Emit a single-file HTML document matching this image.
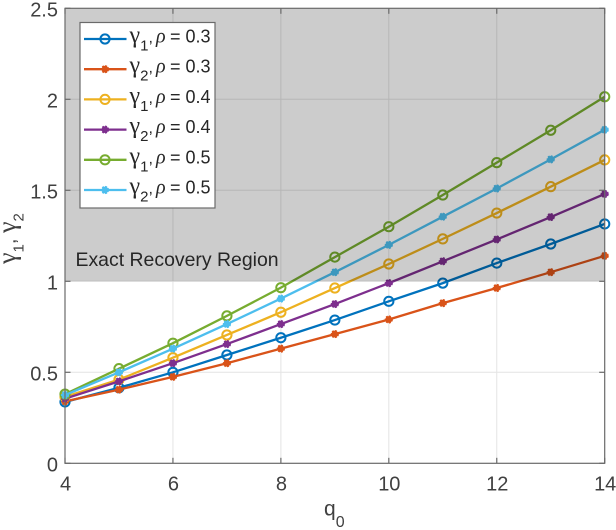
<!DOCTYPE html>
<html>
<head>
<meta charset="utf-8">
<style>
html,body{margin:0;padding:0;background:#fff;width:616px;height:530px;overflow:hidden}
svg{display:block;font-family:"Liberation Sans",sans-serif;filter:blur(0.35px)}
text{fill:#404040}
</style>
</head>
<body>
<svg id="chart" xmlns="http://www.w3.org/2000/svg" width="616" height="530" viewBox="0 0 616 530"></svg>
<script>
const qValues = [4,5,6,7,8,9,10,11,12,13,14];
const gamma1Rho03 = [0.337,0.415,0.50,0.595,0.69,0.787,0.89,0.99,1.10,1.205,1.315];
const gamma2Rho03 = [0.34,0.405,0.475,0.55,0.63,0.71,0.79,0.88,0.963,1.05,1.14];
const gamma1Rho04 = [0.365,0.46,0.58,0.705,0.83,0.963,1.095,1.233,1.375,1.52,1.667];
const gamma2Rho04 = [0.355,0.45,0.55,0.655,0.765,0.875,0.99,1.11,1.23,1.353,1.48];
const gamma1Rho05 = [0.38,0.52,0.66,0.81,0.965,1.133,1.30,1.474,1.652,1.83,2.014];
const gamma2Rho05 = [0.375,0.50,0.63,0.765,0.905,1.05,1.20,1.355,1.51,1.67,1.833];
const xTicks = [4,6,8,10,12,14];
const yTicks = [0,0.5,1,1.5,2,2.5];
const regionThreshold = 1;
const seriesNames = ['gamma1-rho-0-3','gamma2-rho-0-3','gamma1-rho-0-4','gamma2-rho-0-4','gamma1-rho-0-5','gamma2-rho-0-5'];
const seriesValues = [gamma1Rho03,gamma2Rho03,gamma1Rho04,gamma2Rho04,gamma1Rho05,gamma2Rho05];
const seriesColors = ['#0072BD','#D95319','#EDB120','#7E2F8E','#77AC30','#4DBEEE'];
const seriesSub = ['1','2','1','2','1','2'];
const seriesRho = ['0.3','0.3','0.4','0.4','0.5','0.5'];

const NS = 'http://www.w3.org/2000/svg';
const svg = document.getElementById('chart');
const L = 65, R = 604.7, T = 8.3, B = 463.3;
const xMin = 4, xMax = 14, yMin = 0, yMax = 2.5;
const GAMMA_FONT = 'Liberation Serif, serif';
function xs(v){ return L + (v - xMin) / (xMax - xMin) * (R - L); }
function ys(v){ return B - (v - yMin) / (yMax - yMin) * (B - T); }
function mk(tag, attrs, parent){
  const e = document.createElementNS(NS, tag);
  for (const k in attrs) e.setAttribute(k, attrs[k]);
  (parent || svg).appendChild(e);
  return e;
}

// grid
const grid = mk('g', {});


xTicks.slice(1, -1).forEach(function(t){
  const l = mk('line', {x1:xs(t), x2:xs(t), y1:T, y2:B, stroke:'#e4e4e4', 'stroke-width':1}, grid);
  
  
});
yTicks.slice(1, -1).forEach(function(t){
  const l = mk('line', {x1:L, x2:R, y1:ys(t), y2:ys(t), stroke:'#e4e4e4', 'stroke-width':1}, grid);
  
  
});

// series
function drawMarker(parent, x, y, color, sub){
  if (sub === '1') {
    return mk('circle', {cx:x, cy:y, r:4.6, fill:'none', stroke:color, 'stroke-width':2}, parent);
  }
  return mk('circle', {cx:x, cy:y, r:3.4, fill:color, stroke:color, 'stroke-width':1.4, 'stroke-dasharray':'2 1.2'}, parent);
}
seriesValues.forEach(function(vals, i){
  const g = mk('g', {}, svg);
  
  
  const pts = vals.map(function(v, j){ return xs(qValues[j]).toFixed(2) + ',' + ys(v).toFixed(2); }).join(' ');
  const pl = mk('polyline', {points:pts, fill:'none', stroke:seriesColors[i], 'stroke-width':2.3}, g);
  
  
  vals.forEach(function(v, j){
    const m = drawMarker(g, xs(qValues[j]), ys(v), seriesColors[i], seriesSub[i]);
    
    
  });
});

// shaded region
const region = mk('rect', {x:L, y:T, width:R-L, height:ys(regionThreshold)-T, fill:'#000', 'fill-opacity':0.2});



// axes
const axes = mk('g', {stroke:'#6a6a6a', 'stroke-width':1.2, fill:'none'});


mk('rect', {x:L, y:T, width:R-L, height:B-T}, axes);
xTicks.forEach(function(t){
  mk('line', {x1:xs(t), x2:xs(t), y1:B, y2:B-5.5}, axes);
  mk('line', {x1:xs(t), x2:xs(t), y1:T, y2:T+5.5}, axes);
  const tx = mk('text', {x:xs(t)+0.5, y:490.5, 'text-anchor':'middle', 'font-size':20});
  tx.textContent = String(t);
  
  
});
yTicks.forEach(function(t){
  mk('line', {x1:L, x2:L+5.5, y1:ys(t), y2:ys(t)}, axes);
  mk('line', {x1:R, x2:R-5.5, y1:ys(t), y2:ys(t)}, axes);
  const tx = mk('text', {x:58, y:ys(t)+8, 'text-anchor':'end', 'font-size':20});
  tx.textContent = String(t);
  
  
});

// region label
const rl = mk('text', {x:75.5, y:266, 'font-size':19.45, style:'fill:#262626'});
rl.textContent = 'Exact Recovery Region';



// axis titles
const xt = mk('text', {x:324, y:515.5, 'font-size':21});


xt.appendChild(document.createTextNode('q'));
const xtSub = mk('tspan', {'font-size':16, dy:11.5}, xt);
xtSub.textContent = '0';

const yt = mk('text', {x:0, y:0, 'font-size':20, transform:'translate(15.5,264) rotate(-90)'});


const yt1 = mk('tspan', {'font-family':GAMMA_FONT, 'font-size':26}, yt);
yt1.textContent = 'γ';
const yt2 = mk('tspan', {'font-size':15, dy:8}, yt);
yt2.textContent = '1';
const yt3 = mk('tspan', {dy:-8}, yt);
yt3.textContent = ', ';
const yt4 = mk('tspan', {'font-family':GAMMA_FONT, 'font-size':26}, yt);
yt4.textContent = 'γ';
const yt5 = mk('tspan', {'font-size':15, dy:8}, yt);
yt5.textContent = '2';

// legend
const legend = mk('g', {});


mk('rect', {x:80, y:22.5, width:135, height:185.5, fill:'#fff', stroke:'#6a6a6a', 'stroke-width':1.2}, legend);
const rowStart = 39, rowStep = 30.2;
seriesNames.forEach(function(name, i){
  const y = rowStart + i * rowStep;
  const row = mk('g', {}, legend);
  
  
  mk('line', {x1:84, x2:126.5, y1:y, y2:y, stroke:seriesColors[i], 'stroke-width':2.3}, row);
  drawMarker(row, 105, y, seriesColors[i], seriesSub[i]);
  const t = mk('text', {x:129.5, y:y+3.5, 'font-size':18, style:'fill:#262626'}, row);
  const g1 = mk('tspan', {'font-family':GAMMA_FONT, 'font-size':24}, t);
  g1.textContent = 'γ';
  const s = mk('tspan', {'font-size':15, dy:8}, t);
  s.textContent = seriesSub[i];
  const c = mk('tspan', {dy:-8, 'font-size':16}, t);
  c.textContent = ',';
  const r = mk('tspan', {x:156, 'font-family':GAMMA_FONT, 'font-style':'italic', 'font-size':20}, t);
  r.textContent = 'ρ';
  const v = mk('tspan', {x:170}, t);
  v.textContent = '= ' + seriesRho[i];
});
</script>
</body>
</html>
